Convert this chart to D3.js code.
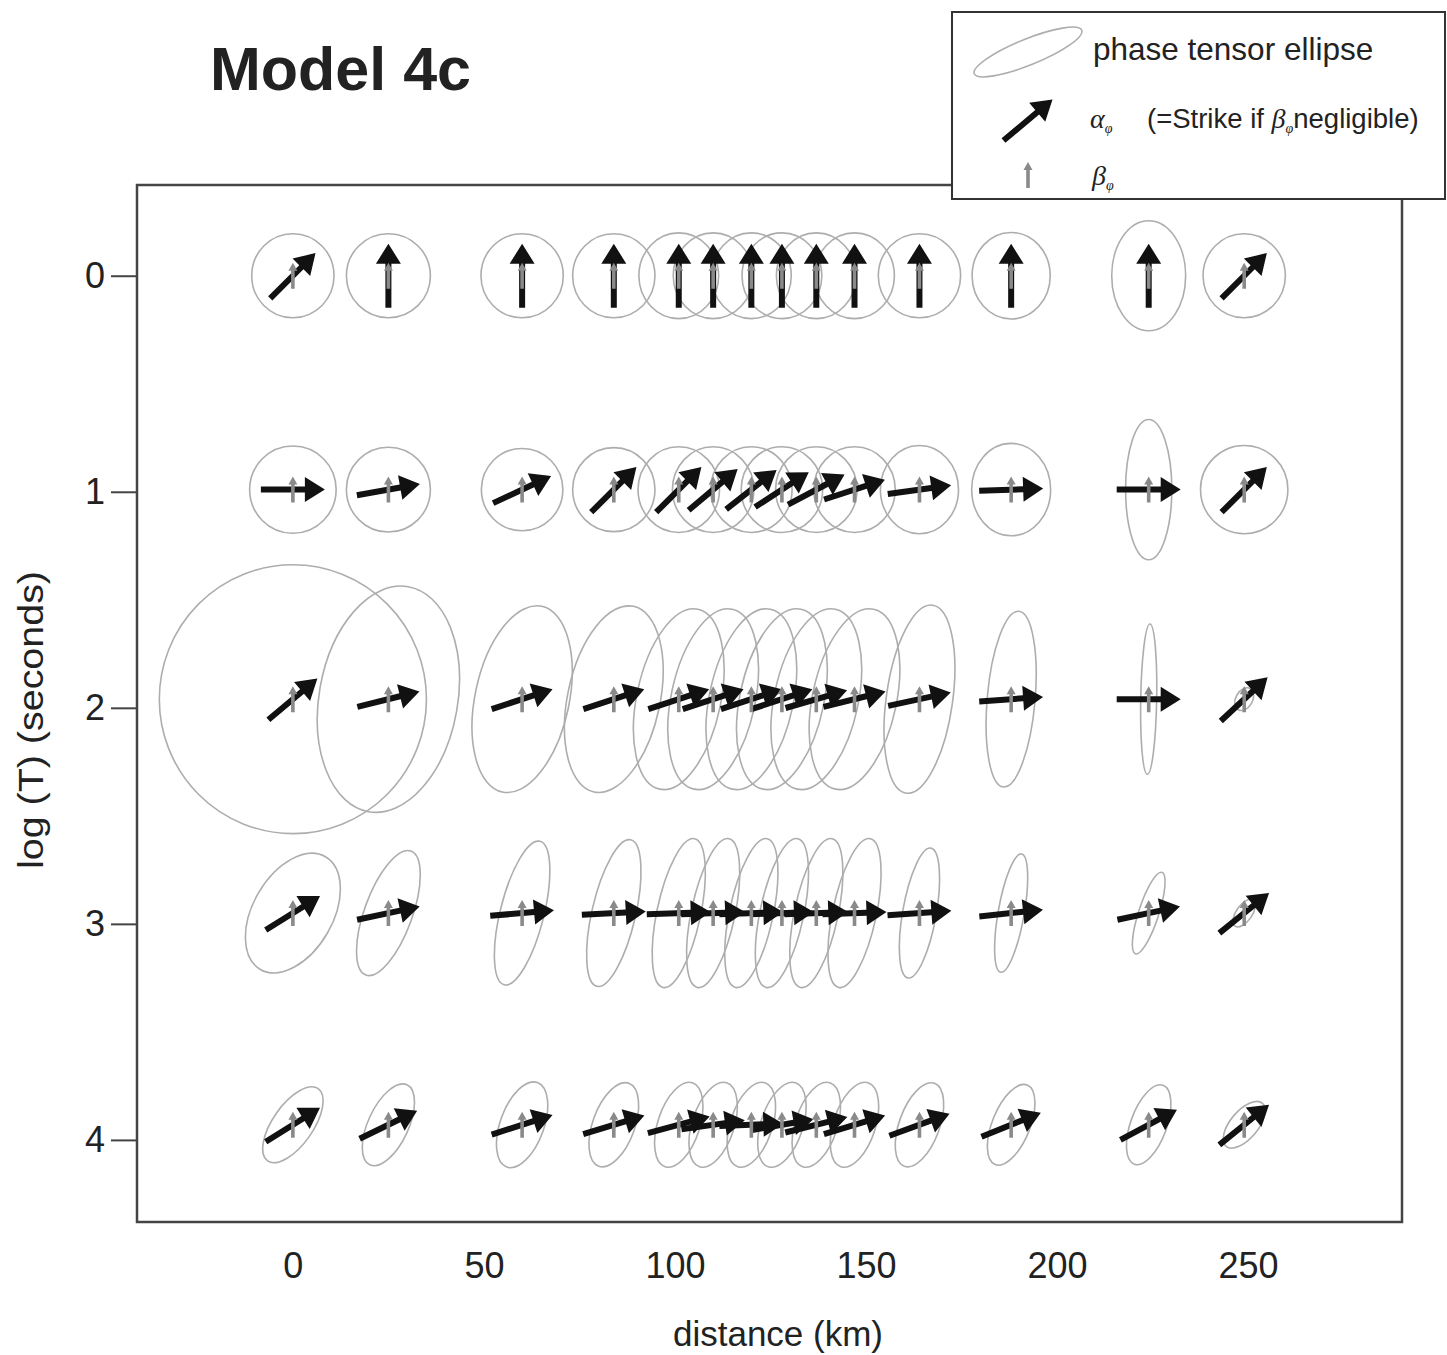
<!DOCTYPE html>
<html>
<head>
<meta charset="utf-8">
<script src="https://cdn.jsdelivr.net/npm/d3@7"></script>
<style>
  html, body { margin: 0; padding: 0; background: #fff; }
  svg text { font-family: "Liberation Sans", Arial, sans-serif; fill: #222; }
  .tick-label { font-size: 36px; }
  .axis-label { font-size: 35px; }
  .legend-text { font-size: 31.5px; }
  .legend-small { font-size: 27.5px; }
  .greek { font-family: "Liberation Serif", "DejaVu Serif", serif; font-style: italic; }
</style>
</head>
<body>
<div id="chart"></div>
<script>
// Station positions along the profile (km) and the periods plotted (log10 T)
const STATION_KM = [0, 25, 60, 84, 101, 110, 120, 128, 137, 147, 164, 188, 224, 249];
const LOG_PERIODS = [0, 0.99, 1.96, 2.95, 3.93];
const X_TICKS = [0, 50, 100, 150, 200, 250];
const Y_TICKS = [0, 1, 2, 3, 4];

// alpha_p direction, degrees clockwise from north (one row per period)
const ALPHA_DEG = [
  [45, 0, 0, 0, 0, 0, 0, 0, 0, 0, 0, 0, 0, 45],
  [90, 80, 65, 45, 45, 50, 52, 57, 62, 72, 82, 88, 90, 45],
  [50, 76, 72, 72, 72, 72, 72, 72, 74, 76, 78, 86, 90, 47],
  [58, 78, 85, 87, 88, 88, 88, 88, 88, 88, 86, 84, 78, 51],
  [58, 64, 72, 73, 75, 82, 88, 80, 76, 73, 70, 68, 62, 51]
];

// phase tensor ellipse semi-axes (normalised) and tilt of the major axis from vertical (deg)
const PHI_MAX = [
  [1.00, 1.00, 1.00, 1.00, 1.02, 1.02, 1.02, 1.02, 1.02, 1.02, 1.00, 1.03, 1.31, 1.00],
  [1.04, 1.01, 0.98, 1.00, 1.02, 1.02, 1.02, 1.02, 1.02, 1.02, 1.05, 1.10, 1.67, 1.05],
  [3.20, 2.72, 2.26, 2.26, 2.19, 2.19, 2.19, 2.19, 2.19, 2.19, 2.26, 2.10, 1.79, 0.29],
  [1.55, 1.57, 1.76, 1.79, 1.81, 1.81, 1.81, 1.81, 1.81, 1.81, 1.57, 1.43, 1.02, 0.38],
  [1.05, 1.05, 1.07, 1.05, 1.05, 1.05, 1.05, 1.05, 1.05, 1.05, 1.05, 1.02, 1.00, 0.67]
];
const PHI_MIN = [
  [0.98, 1.00, 0.98, 0.98, 0.95, 0.95, 0.95, 0.95, 0.95, 0.95, 0.98, 0.93, 0.88, 0.98],
  [1.03, 1.00, 0.97, 0.98, 0.97, 0.97, 0.97, 0.97, 0.97, 0.97, 0.93, 0.94, 0.55, 1.04],
  [3.18, 1.65, 1.12, 1.10, 1.00, 1.00, 1.00, 1.00, 1.00, 1.00, 0.79, 0.57, 0.19, 0.20],
  [0.95, 0.57, 0.52, 0.52, 0.52, 0.52, 0.52, 0.52, 0.52, 0.52, 0.40, 0.31, 0.24, 0.19],
  [0.48, 0.48, 0.52, 0.50, 0.50, 0.50, 0.50, 0.50, 0.50, 0.50, 0.48, 0.45, 0.43, 0.33]
];
const ELLIPSE_TILT = [
  [0, 0, 0, 0, 0, 0, 0, 0, 0, 0, 0, 0, 0, 0],
  [0, 0, 0, 0, 0, 0, 0, 0, 0, 0, 0, 0, 0, 0],
  [0, 10, 12, 12, 12, 12, 12, 12, 12, 12, 8, 5, 1, 30],
  [30, 20, 14, 13, 12, 12, 12, 12, 12, 12, 10, 10, 18, 35],
  [35, 25, 20, 20, 18, 18, 18, 18, 18, 18, 20, 22, 20, 40]
];

const width = 1447;
const height = 1355;
const frame = { left: 137, top: 185, right: 1402, bottom: 1222 };

const svg = d3.select("#chart").append("svg")
  .attr("width", width)
  .attr("height", height)
  .attr("viewBox", `0 0 ${width} ${height}`);

// Axis scales (x: km, y: log period, increasing downwards)
const x = d3.scaleLinear().domain([-40.8, 290.3]).range([frame.left, frame.right]);
const y = d3.scaleLinear().domain([-0.42, 4.38]).range([frame.top, frame.bottom]);
// ellipse semi-axis scale: normalised phase tensor value -> pixels
const r = d3.scaleLinear().domain([0, 1]).range([0, 42]);

// Flatten the grid into one record per station/period
const records = LOG_PERIODS.flatMap((logT, i) =>
  STATION_KM.map((km, j) => ({
    km,
    logT,
    alpha: ALPHA_DEG[i][j],
    phiMax: PHI_MAX[i][j],
    phiMin: PHI_MIN[i][j],
    tilt: ELLIPSE_TILT[i][j]
  }))
);

// Arrow outline pointing up, centred on the origin
function arrowPath(len, shaft, headLen, headW) {
  const h = len / 2;
  return `M${-shaft / 2},${h} L${-shaft / 2},${-h + headLen} L${-headW / 2},${-h + headLen} ` +
    `L0,${-h} L${headW / 2},${-h + headLen} L${shaft / 2},${-h + headLen} L${shaft / 2},${h} Z`;
}
const alphaShape = arrowPath(64, 6, 20, 25);
const betaShape = arrowPath(26, 3.6, 8, 9);

// Plot frame
svg.append("rect")
  .attr("x", frame.left).attr("y", frame.top)
  .attr("width", frame.right - frame.left).attr("height", frame.bottom - frame.top)
  .attr("fill", "none").attr("stroke", "#444").attr("stroke-width", 2.5);

// Axes
const yAxis = d3.axisLeft(y).tickValues(Y_TICKS).tickSize(26).tickPadding(6).tickFormat(d3.format("d"));
const xAxis = d3.axisBottom(x).tickValues(X_TICKS).tickSize(0).tickPadding(30).tickFormat(d3.format("d"));

const yAxisG = svg.append("g").attr("transform", `translate(${frame.left},0)`).call(yAxis);
const xAxisG = svg.append("g").attr("transform", `translate(0,${frame.bottom})`).call(xAxis);
[yAxisG, xAxisG].forEach((g) => {
  g.select(".domain").remove();
  g.selectAll(".tick line").attr("stroke", "#444").attr("stroke-width", 2);
  g.selectAll(".tick text").attr("class", "tick-label").attr("fill", "#222").style("font-family", null);
});
xAxisG.selectAll(".tick text").attr("dy", "0.71em");

svg.append("text")
  .attr("class", "axis-label")
  .attr("text-anchor", "middle")
  .attr("x", 778).attr("y", 1346)
  .text("distance (km)");

svg.append("text")
  .attr("class", "axis-label")
  .attr("text-anchor", "middle")
  .attr("textLength", 298)
  .attr("lengthAdjust", "spacingAndGlyphs")
  .attr("transform", `translate(43, 720) rotate(-90)`)
  .text("log (T) (seconds)");

// Phase tensor ellipses
const plot = svg.append("g");
plot.selectAll("ellipse.pt")
  .data(records)
  .join("ellipse")
  .attr("class", "pt")
  .attr("transform", (d) => `translate(${x(d.km)},${y(d.logT)}) rotate(${d.tilt})`)
  .attr("rx", (d) => r(d.phiMin))
  .attr("ry", (d) => r(d.phiMax))
  .attr("fill", "none")
  .attr("stroke", "#adadad")
  .attr("stroke-width", 1.6);

// alpha_p arrows
plot.selectAll("path.alpha")
  .data(records)
  .join("path")
  .attr("class", "alpha")
  .attr("d", alphaShape)
  .attr("transform", (d) => `translate(${x(d.km)},${y(d.logT)}) rotate(${d.alpha})`)
  .attr("fill", "#111");

// beta_p arrows (small, grey, on top)
plot.selectAll("path.beta")
  .data(records)
  .join("path")
  .attr("class", "beta")
  .attr("d", betaShape)
  .attr("transform", (d) => `translate(${x(d.km)},${y(d.logT)})`)
  .attr("fill", "#8a8a8a");

// Title
svg.append("text")
  .attr("x", 210).attr("y", 90)
  .style("font-size", "61px")
  .style("font-weight", "bold")
  .attr("fill", "#111")
  .text("Model 4c");

// Legend
const legend = svg.append("g");
legend.append("rect")
  .attr("x", 952).attr("y", 12).attr("width", 493).attr("height", 187)
  .attr("fill", "#fff").attr("stroke", "#333").attr("stroke-width", 2);

legend.append("ellipse")
  .attr("transform", "translate(1028,52) rotate(-22)")
  .attr("rx", 58).attr("ry", 13)
  .attr("fill", "none").attr("stroke", "#adadad").attr("stroke-width", 1.6);
legend.append("text").attr("class", "legend-text").attr("x", 1093).attr("y", 60).text("phase tensor ellipse");

legend.append("path")
  .attr("d", alphaShape)
  .attr("transform", "translate(1028,120) rotate(50)")
  .attr("fill", "#111");
const alphaText = legend.append("text").attr("x", 1090).attr("y", 128);
alphaText.append("tspan").attr("class", "greek").style("font-size", "28px").text("α");
alphaText.append("tspan").attr("class", "greek").style("font-size", "14px").attr("dy", 5).text("φ");
const strikeText = legend.append("text").attr("class", "legend-small").attr("x", 1147).attr("y", 128);
strikeText.append("tspan").text("(=Strike if ");
strikeText.append("tspan").attr("class", "greek").style("font-size", "28px").text("β");
strikeText.append("tspan").attr("class", "greek").style("font-size", "14px").attr("dy", 5).text("φ");
strikeText.append("tspan").attr("dy", -5).text("negligible)");

legend.append("path")
  .attr("d", betaShape)
  .attr("transform", "translate(1028,175)")
  .attr("fill", "#8a8a8a");
const betaText = legend.append("text").attr("x", 1092).attr("y", 185);
betaText.append("tspan").attr("class", "greek").style("font-size", "28px").text("β");
betaText.append("tspan").attr("class", "greek").style("font-size", "14px").attr("dy", 5).text("φ");
</script>
</body>
</html>
